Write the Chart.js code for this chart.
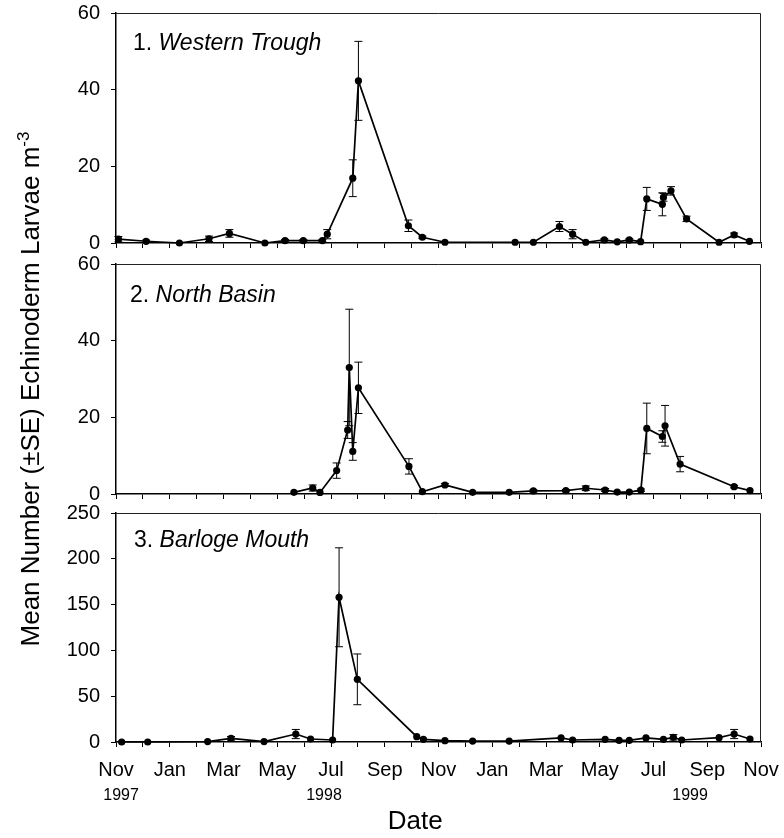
<!DOCTYPE html>
<html>
<head>
<meta charset="utf-8">
<title>Echinoderm larvae</title>
<script src="https://cdn.jsdelivr.net/npm/chart.js@4.4.1/dist/chart.umd.min.js"></script>
<style>
  body { margin: 0; background: #fff; }
  #wrap { position: relative; width: 784px; height: 838px; overflow: hidden; background: #fff;
          font-family: 'Liberation Sans', Arial, sans-serif; }
  canvas { position: absolute; left: 0; }
  #c1 { top: 0; }
  #c2 { top: 250px; }
  #c3 { top: 500px; }
  #ytitle { position: absolute; left: -236px; top: 374px; width: 520px; height: 30px; line-height: 30px;
            text-align: center; font-size: 26px; color: #000; white-space: nowrap; transform: rotate(-90deg); }
  #ytitle sup { font-size: 17px; }
</style>
</head>
<body>
<div id="wrap">
  <canvas id="c1" width="784" height="250"></canvas>
  <canvas id="c2" width="784" height="250"></canvas>
  <canvas id="c3" width="784" height="338"></canvas>
  <div id="ytitle">Mean Number (±SE) Echinoderm Larvae m<sup>-3</sup></div>
</div>
<script>
// x values are months since 1 Nov 1997
const monthNames = ['Nov', 'Jan', 'Mar', 'May', 'Jul', 'Sep'];
const yearMonth = [0.19, 7.74, 21.36];
const yearText = ['1997', '1998', '1999'];

// 1. Western Trough
const wtMonth = [0.09, 1.12, 2.36, 3.46, 4.22, 5.54, 6.29, 6.97, 7.68, 7.86, 8.81, 9.02, 10.88, 11.40, 12.24, 14.85,
                 15.53, 16.50, 16.99, 17.48, 18.17, 18.65, 19.10, 19.52, 19.75, 20.33, 20.37, 20.65, 21.23, 22.44, 23.00, 23.57];
const wtMean = [1.0, 0.45, 0.0, 1.1, 2.5, 0.0, 0.6, 0.6, 0.6, 2.3, 16.9, 42.3, 4.5, 1.5, 0.2, 0.2,
                0.2, 4.3, 2.3, 0.2, 0.8, 0.3, 0.8, 0.35, 11.5, 10.1, 11.9, 13.6, 6.3, 0.2, 2.1, 0.45];
const wtSE = [0.7, 0.3, 0, 0.7, 1.0, 0, 0.3, 0.3, 0.3, 1.2, 4.8, 10.3, 1.5, 0.3, 0, 0,
              0, 1.3, 1.2, 0, 0.3, 0, 0.3, 0, 3.0, 3.0, 1.0, 1.1, 0.7, 0, 0.5, 0];

// 2. North Basin
const nbMonth = [6.62, 7.32, 7.59, 8.21, 8.62, 8.68, 8.81, 9.02, 10.90, 11.40, 12.24, 13.27, 14.63,
                 15.53, 16.74, 17.48, 18.20, 18.65, 19.10, 19.53, 19.75, 20.33, 20.43, 20.99, 23.00, 23.59];
const nbMean = [0.43, 1.56, 0.4, 6.1, 16.7, 33.0, 11.1, 27.7, 7.2, 0.6, 2.35, 0.43, 0.43,
                0.8, 0.87, 1.5, 1.04, 0.5, 0.5, 1.0, 17.1, 15.0, 17.8, 7.8, 1.9, 0.87];
const nbSE = [0, 0.8, 0, 2.0, 2.2, 15.2, 2.3, 6.7, 2.0, 0, 0.4, 0, 0,
              0.3, 0.3, 0.6, 0.4, 0, 0, 0.3, 6.6, 1.5, 5.3, 2.0, 0.3, 0];

// 3. Barloge Mouth
const bmMonth = [0.21, 1.18, 3.41, 4.28, 5.51, 6.69, 7.24, 8.06, 8.30, 8.98, 11.19, 11.44, 12.24, 13.27,
                 14.63, 16.56, 16.99, 18.20, 18.72, 19.10, 19.72, 20.37, 20.74, 21.05, 22.44, 23.00, 23.59];
const bmMean = [0, 0, 0.5, 4.0, 0.5, 8.7, 3.3, 2.2, 158, 68.4, 5.8, 2.9, 1.4, 1.0,
                1.0, 4.4, 2.2, 2.9, 1.8, 1.8, 4.4, 2.9, 5.1, 2.2, 4.7, 8.7, 3.3];
const bmSE = [0, 0, 0, 2.0, 0, 5.0, 0, 0, 54, 27.7, 0, 0, 0, 0,
              0, 0, 0, 0, 0, 0, 0, 0, 3.0, 0, 0, 5.0, 0];

const FONT = "'Liberation Sans', Arial, sans-serif";
Chart.defaults.font.family = FONT;
Chart.defaults.color = '#000';

// error bars drawn from the dataset's se array through the chart scales
const errorBars = {
    id: 'errorBars',
    beforeDatasetsDraw(chart) {
        const { ctx, scales: { x, y } } = chart;
        const ds = chart.data.datasets[0];
        ctx.save();
        ctx.strokeStyle = '#000';
        ctx.lineWidth = 1;
        ds.data.forEach((d, i) => {
            const e = ds.se[i];
            if (!e) return;
            const px = x.getPixelForValue(d.x);
            const top = y.getPixelForValue(d.y + e);
            const bot = y.getPixelForValue(Math.max(d.y - e, y.min));
            ctx.beginPath();
            ctx.moveTo(px, top); ctx.lineTo(px, bot);
            ctx.moveTo(px - 4, top); ctx.lineTo(px + 4, top);
            ctx.moveTo(px - 4, bot); ctx.lineTo(px + 4, bot);
            ctx.stroke();
        });
        ctx.restore();
    }
};

// top and right edges of the panel box
const frame = {
    id: 'frame',
    afterDraw(chart) {
        const { ctx, chartArea: a } = chart;
        ctx.save();
        ctx.strokeStyle = '#222';
        ctx.lineWidth = 1;
        ctx.beginPath();
        ctx.moveTo(a.left, a.top + 0.5);
        ctx.lineTo(a.right - 0.5, a.top + 0.5);
        ctx.lineTo(a.right - 0.5, a.bottom);
        ctx.stroke();
        ctx.restore();
    }
};

// "1. Western Trough" style label inside the panel
const panelLabel = {
    id: 'panelLabel',
    afterDraw(chart, args, opts) {
        const { ctx, chartArea: a } = chart;
        ctx.save();
        ctx.fillStyle = '#000';
        ctx.textBaseline = 'alphabetic';
        ctx.textAlign = 'left';
        ctx.font = '23px ' + FONT;
        const x0 = a.left + opts.dx, y0 = a.top + opts.dy;
        const lead = opts.num + '. ';
        ctx.fillText(lead, x0, y0);
        const w = ctx.measureText(lead).width;
        ctx.font = 'italic 23px ' + FONT;
        ctx.fillText(opts.name, x0 + w, y0);
        ctx.restore();
    }
};

// year labels under the month ticks, and the "Date" axis title
const bottomText = {
    id: 'bottomText',
    afterDraw(chart, args, opts) {
        if (!opts.show) return;
        const { ctx, chartArea: a, scales: { x } } = chart;
        ctx.save();
        ctx.fillStyle = '#000';
        ctx.textAlign = 'center';
        ctx.textBaseline = 'middle';
        ctx.font = '16px ' + FONT;
        yearMonth.forEach((m, i) => {
            ctx.fillText(yearText[i], x.getPixelForValue(m), x.top + 54);
        });
        ctx.font = '26px ' + FONT;
        ctx.fillText('Date', a.left + (a.right - a.left) * 0.464, x.top + 80);
        ctx.restore();
    }
};

function makePanel(id, months, mean, se, yMax, yStep, num, name, layout) {
    const bottom = layout.bottom;
    return new Chart(document.getElementById(id), {
        type: 'line',
        data: {
            datasets: [{
                data: months.map((m, i) => ({ x: m, y: mean[i] })),
                se: se,
                borderColor: '#000',
                borderWidth: 1.7,
                pointRadius: 3.6,
                pointBackgroundColor: '#000',
                pointBorderWidth: 0,
                tension: 0,
                clip: false
            }]
        },
        options: {
            responsive: false,
            animation: false,
            events: [],
            layout: { padding: { top: layout.padTop, right: 23, left: 0, bottom: 0 } },
            plugins: {
                legend: { display: false },
                tooltip: { enabled: false },
                panelLabel: { num: num, name: name, dx: layout.dx, dy: layout.dy },
                bottomText: { show: bottom }
            },
            scales: {
                x: {
                    type: 'linear',
                    min: 0,
                    max: 24,
                    border: { color: '#000', width: 1.5 },
                    grid: { drawOnChartArea: false, drawTicks: true, tickLength: 5, tickColor: '#000', tickWidth: 1 },
                    ticks: {
                        stepSize: 1,
                        autoSkip: false,
                        maxRotation: 0,
                        padding: 11,
                        font: { size: 20 },
                        color: '#000',
                        callback: (v) => (bottom && v % 2 === 0) ? monthNames[(v / 2) % 6] : ''
                    },
                    afterFit: (axis) => {
                        axis.height = layout.xHeight;
                        axis.paddingLeft = 0;
                        axis.paddingRight = 0;
                    }
                },
                y: {
                    min: 0,
                    max: yMax,
                    border: { color: '#000', width: 1.5 },
                    grid: { drawOnChartArea: false, drawTicks: true, tickLength: 5, tickColor: '#000', tickWidth: 1 },
                    ticks: { stepSize: yStep, padding: 11, font: { size: 20 }, color: '#000' },
                    afterFit: (axis) => {
                        axis.width = 116;
                        axis.paddingTop = 0;
                        axis.paddingBottom = 0;
                    }
                }
            }
        },
        plugins: [errorBars, frame, panelLabel, bottomText]
    });
}

makePanel('c1', wtMonth, wtMean, wtSE, 60, 20, 1, 'Western Trough',
          { padTop: 13, xHeight: 7, dx: 17, dy: 37, bottom: false });
makePanel('c2', nbMonth, nbMean, nbSE, 60, 20, 2, 'North Basin',
          { padTop: 14, xHeight: 6, dx: 14, dy: 38, bottom: false });
makePanel('c3', bmMonth, bmMean, bmSE, 250, 50, 3, 'Barloge Mouth',
          { padTop: 13, xHeight: 96, dx: 18, dy: 34, bottom: true });
</script>
</body>
</html>
